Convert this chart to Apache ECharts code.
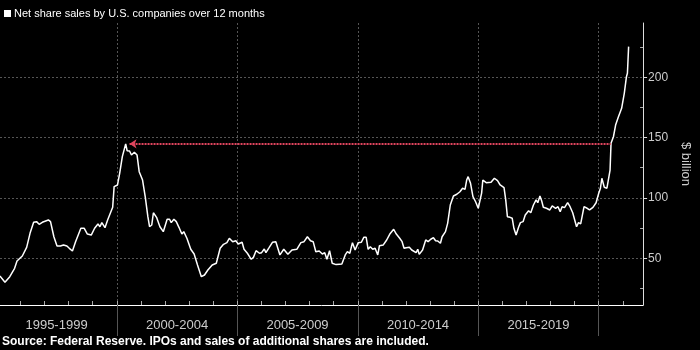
<!DOCTYPE html>
<html>
<head>
<meta charset="utf-8">
<script src="https://cdn.jsdelivr.net/npm/echarts@6/dist/echarts.min.js"></script>
<style>
  html, body { margin: 0; padding: 0; background: #000; }
  #chart { width: 700px; height: 350px; }
</style>
</head>
<body>
<div id="chart"></div>
<script>
// net share sales, $ billion, 12-month rolling
const dates = [
    1995.15, 1995.36, 1995.56, 1995.76, 1995.86, 1996.08, 1996.26, 1996.40, 1996.55, 1996.67,
    1996.78, 1996.91, 1997.16, 1997.25, 1997.39, 1997.52, 1997.66, 1997.79, 1997.93, 1998.03,
    1998.16, 1998.29, 1998.51, 1998.65, 1998.78, 1998.94, 1999.08, 1999.22, 1999.30, 1999.38,
    1999.51, 1999.62, 1999.83, 1999.89, 2000.03, 2000.12, 2000.23, 2000.37, 2000.43, 2000.53,
    2000.61, 2000.73, 2000.84, 2000.93, 2001.07, 2001.18, 2001.29, 2001.36, 2001.45, 2001.52,
    2001.65, 2001.79, 2001.93, 2002.09, 2002.19, 2002.26, 2002.37, 2002.47, 2002.58, 2002.70,
    2002.78, 2002.91, 2003.07, 2003.21, 2003.35, 2003.51, 2003.64, 2003.78, 2003.96, 2004.13,
    2004.29, 2004.43, 2004.57, 2004.67, 2004.81, 2004.94, 2005.04, 2005.20, 2005.28, 2005.42,
    2005.58, 2005.67, 2005.78, 2005.92, 2006.01, 2006.12, 2006.19, 2006.32, 2006.46, 2006.60,
    2006.77, 2006.93, 2007.10, 2007.27, 2007.47, 2007.64, 2007.77, 2007.91, 2008.04, 2008.15,
    2008.26, 2008.40, 2008.53, 2008.63, 2008.72, 2008.83, 2008.94, 2009.10, 2009.24, 2009.34,
    2009.48, 2009.57, 2009.67, 2009.78, 2009.89, 2010.02, 2010.15, 2010.25, 2010.35, 2010.43,
    2010.52, 2010.62, 2010.72, 2010.83, 2010.90, 2011.06, 2011.20, 2011.33, 2011.49, 2011.60,
    2011.74, 2011.84, 2011.92, 2012.01, 2012.14, 2012.24, 2012.32, 2012.42, 2012.49, 2012.55,
    2012.69, 2012.82, 2012.92, 2013.03, 2013.14, 2013.23, 2013.32, 2013.43, 2013.50, 2013.64,
    2013.73, 2013.84, 2013.97, 2014.11, 2014.24, 2014.35, 2014.45, 2014.52, 2014.58, 2014.68,
    2014.78, 2014.89, 2015.00, 2015.08, 2015.14, 2015.19, 2015.33, 2015.53, 2015.67, 2015.80,
    2015.91, 2016.07, 2016.14, 2016.21, 2016.32, 2016.41, 2016.48, 2016.57, 2016.68, 2016.75,
    2016.86, 2016.95, 2017.09, 2017.18, 2017.29, 2017.40, 2017.47, 2017.56, 2017.63, 2017.70,
    2017.83, 2017.97, 2018.07, 2018.21, 2018.31, 2018.40, 2018.48, 2018.58, 2018.71, 2018.81,
    2018.92, 2018.98, 2019.08, 2019.16, 2019.25, 2019.32, 2019.39, 2019.52, 2019.62, 2019.76,
    2019.89, 2020.00, 2020.07, 2020.13, 2020.23, 2020.34, 2020.41, 2020.47, 2020.51, 2020.61,
    2020.70, 2020.81, 2020.95, 2021.06, 2021.15, 2021.19, 2021.24
]
const sales = [
    35.2, 30.0, 34.7, 41.6, 47.7, 51.8, 59.0, 70.6, 79.8, 80.3,
    78.1, 79.8, 81.7, 80.3, 67.8, 60.1, 60.1, 61.0, 60.1, 58.2,
    56.0, 63.7, 74.8, 74.8, 70.0, 69.2, 74.8, 78.4, 76.1, 79.5,
    75.3, 81.7, 92.2, 109.3, 110.7, 120.4, 134.2, 144.8, 139.1, 138.9,
    135.6, 137.8, 135.6, 121.7, 114.8, 101.0, 84.4, 76.1, 77.5, 87.7,
    83.9, 76.1, 72.0, 82.3, 82.3, 79.5, 82.3, 80.3, 75.6, 70.0,
    72.0, 66.5, 57.4, 53.5, 44.4, 34.7, 36.1, 40.2, 44.4, 45.8,
    58.2, 61.5, 62.9, 66.5, 63.7, 64.5, 61.8, 63.2, 57.4, 54.1,
    49.1, 50.7, 56.2, 54.1, 54.6, 57.6, 54.6, 58.7, 63.2, 63.7,
    52.7, 57.4, 53.2, 56.8, 57.4, 62.9, 63.7, 67.8, 64.5, 63.7,
    55.4, 56.0, 53.5, 54.6, 49.1, 56.2, 45.8, 44.7, 45.0, 45.2,
    52.7, 55.4, 54.1, 62.9, 56.8, 62.9, 63.2, 67.3, 67.3, 57.4,
    59.5, 57.4, 58.2, 52.7, 60.4, 61.0, 65.1, 70.0, 74.0, 70.0,
    66.5, 63.7, 58.2, 58.7, 59.0, 56.8, 58.2, 54.6, 57.4, 53.2,
    56.8, 65.1, 63.7, 65.7, 67.0, 64.5, 64.3, 62.4, 67.8, 72.0,
    78.9, 94.1, 101.6, 103.0, 105.1, 108.0, 107.1, 114.8, 117.6, 112.1,
    101.0, 96.8, 91.4, 92.7, 104.0, 114.8, 112.6, 112.9, 116.3, 114.3,
    110.7, 108.5, 98.3, 84.4, 83.9, 83.1, 74.8, 69.2, 76.1, 79.5,
    80.3, 85.8, 89.4, 87.7, 94.1, 98.3, 96.0, 101.6, 97.7, 92.2,
    91.4, 90.0, 93.3, 91.4, 92.7, 88.5, 92.7, 91.9, 96.0, 92.7,
    87.7, 87.2, 76.1, 79.5, 78.4, 78.9, 92.7, 91.4, 90.0, 92.2,
    96.0, 103.8, 108.0, 116.3, 108.8, 108.0, 109.3, 123.1, 145.3, 150.7,
    160.4, 166.8, 174.3, 186.7, 200.5, 203.3, 225.4
]

const periodStarts = [1995, 2000, 2005, 2010, 2015]
const periodLabels = ['1995-1999', '2000-2004', '2005-2009', '2010-2014', '2015-2019']
const periodBreaks = [2000, 2005, 2010, 2015, 2020]
const yearTicks = [1996, 1997, 1998, 1999, 2000, 2001, 2002, 2003, 2004, 2005, 2006, 2007, 2008,
    2009, 2010, 2011, 2012, 2013, 2014, 2015, 2016, 2017, 2018, 2019, 2020, 2021]
const yTicks = [50, 100, 150, 200]
const yMinorTicks = [25, 75, 125, 175, 225]

// dotted line from the dot-com peak to where 2020 passes it
const peakLevel = 144.8
const peakFrom = 2000.53
const peakTo = 2020.50

const X_MIN = 1995.154
const X_MAX = 2021.84
const Y_MIN = 11.2
const Y_MAX = 245

const chart = echarts.init(document.getElementById('chart'))

const labelPos = periodStarts.map(y => y + 2.5)

const options = {
    backgroundColor: '#000',
    animation: false,
    title: {
        text: 'Source: Federal Reserve. IPOs and sales of additional shares are included.',
        left: 2,
        top: 336,
        padding: 0,
        textStyle: {
            color: '#fff',
            fontFamily: 'Liberation Sans',
            fontWeight: 'bold',
            fontSize: 12
        }
    },
    legend: {
        left: 4,
        top: 8,
        padding: 0,
        itemWidth: 7,
        itemHeight: 7,
        itemGap: 4,
        icon: 'rect',
        textStyle: {
            color: '#fff',
            fontFamily: 'Liberation Sans',
            fontSize: 11,
            padding: [0, 0, 0, -2]
        },
        data: ['Net share sales by U.S. companies over 12 months']
    },
    grid: {
        left: 0,
        right: 43,
        top: 23,
        bottom: 45
    },
    xAxis: [
        {
            type: 'value',
            position: 'bottom',
            min: X_MIN,
            max: X_MAX,
            axisLine: {show: true, lineStyle: {color: '#fff', width: 1}},
            axisTick: {
                show: true,
                inside: true,
                length: 4,
                customValues: yearTicks,
                lineStyle: {color: '#aaa'}
            },
            axisLabel: {
                customValues: labelPos,
                margin: 14,
                color: '#ccc',
                fontFamily: 'Liberation Sans',
                fontSize: 13,
                formatter: v => periodLabels[periodStarts.indexOf(Math.round(v - 2.5))] || ''
            },
            splitLine: {show: false}
        },
        {
            type: 'value',
            position: 'bottom',
            min: X_MIN,
            max: X_MAX,
            axisLine: {show: false},
            axisTick: {
                show: true,
                inside: false,
                length: 31,
                customValues: periodBreaks,
                lineStyle: {color: '#555'}
            },
            axisLabel: {show: false},
            splitLine: {
                show: true,
                lineStyle: {color: '#555', type: [2, 2]}
            }
        }
    ],
    yAxis: [
        {
            type: 'value',
            position: 'right',
            min: Y_MIN,
            max: Y_MAX,
            name: '$ billion',
            nameLocation: 'middle',
            nameRotate: -90,
            nameGap: 26,
            nameTextStyle: {
                color: '#ccc',
                fontFamily: 'Liberation Sans',
                fontSize: 13
            },
            axisLine: {show: true, lineStyle: {color: '#ddd'}},
            axisTick: {
                show: true,
                length: 4,
                customValues: yTicks,
                lineStyle: {color: '#ddd'}
            },
            axisLabel: {
                customValues: yTicks,
                margin: 5,
                color: '#ccc',
                fontFamily: 'Liberation Sans',
                fontSize: 12
            },
            splitLine: {
                show: true,
                lineStyle: {color: '#555', type: [2, 2]}
            }
        },
        {
            type: 'value',
            position: 'right',
            min: Y_MIN,
            max: Y_MAX,
            axisLine: {show: false},
            axisTick: {
                show: true,
                inside: true,
                length: 3,
                customValues: yMinorTicks,
                lineStyle: {color: '#aaa'}
            },
            axisLabel: {show: false},
            splitLine: {show: false}
        }
    ],
    series: [{
        name: 'Net share sales by U.S. companies over 12 months',
        type: 'line',
        xAxisIndex: 0,
        yAxisIndex: 0,
        showSymbol: false,
        smooth: false,
        itemStyle: {color: '#fff'},
        lineStyle: {color: '#fff', width: 1.5},
        data: dates.map((d, i) => [d, sales[i]]),
        markLine: {
            silent: true,
            animation: false,
            label: {show: false},
            lineStyle: {color: '#e0455e', type: [2, 1], width: 2},
            data: [[
                {coord: [peakFrom, peakLevel], symbol: 'arrow', symbolSize: [7, 7]},
                {coord: [peakTo, peakLevel], symbol: 'none'}
            ]]
        }
    }]
}

chart.setOption(options)
</script>
</body>
</html>
